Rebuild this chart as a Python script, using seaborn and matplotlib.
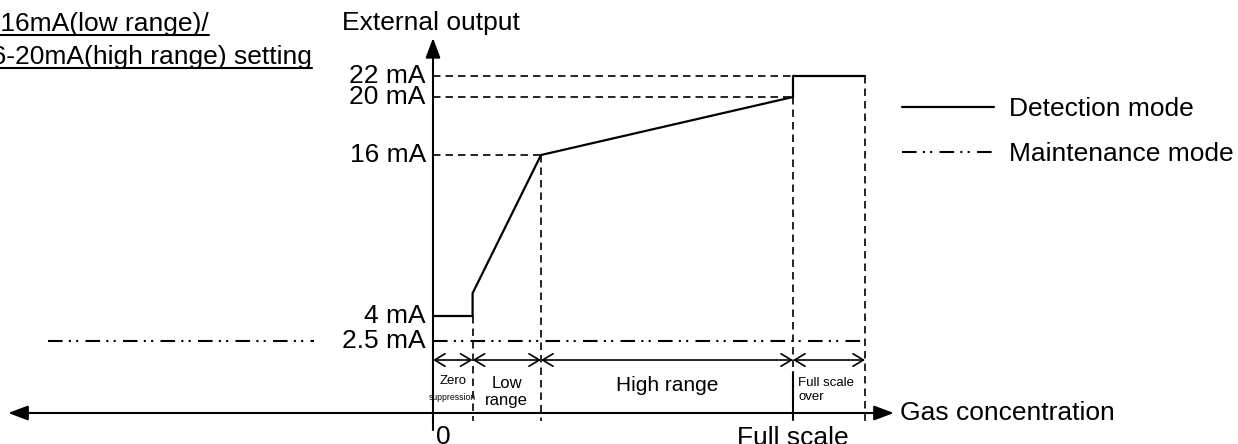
import matplotlib.pyplot as plt
import numpy as np
import seaborn as sns
from matplotlib.lines import Line2D

# gas concentration in % of full scale, external output in mA (schematic)
DET_CONC = [0, 11, 11, 30, 100, 100, 120]
DET_MA = [4, 4, 5.7, 16, 20, 22, 22]

MAINT_MA = 2.5
MAINT_CONC = [0, 120]
MAINT_LEFT_CONC = [-107, -33]

TICK_MA = [22, 20, 16, 4, 2.5]
GUIDE_MA = [22, 20, 16]

RANGE_EDGES = [0, 11, 30, 100, 120]
RANGE_NAMES = ['Zero\nsuppression', 'Low\nrange', 'High range', 'Full scale\nover']

TITLE_LINES = ['4-16mA(low range)/', '16-20mA(high range) setting']

# the drawing is schematic: mA levels are not evenly spaced on the axis
MA_KNOTS = [-3, 0, 2.5, 4, 16, 20, 22, 30]
POS_KNOTS = [-31, 0, 72, 97, 258, 316, 337, 413]

W, H = 1238, 444
FS = 19
DASH = (0, (4.5, 3))
MAINT_STYLE = (0, (7, 3, 1, 2.5, 1, 3.5))

sns.set_style('white')
plt.rcParams['font.family'] = ['Liberation Sans', 'DejaVu Sans']
plt.rcParams['text.color'] = 'black'

fig = plt.figure(figsize=(W / 100, H / 100), dpi=100)
ax = fig.add_axes([0, 0, 1, 1])
ax.set_yscale('function', functions=(lambda v: np.interp(v, MA_KNOTS, POS_KNOTS),
                                     lambda p: np.interp(p, POS_KNOTS, MA_KNOTS)))
ax.set_xlim(-433 / 3.6, (W - 433) / 3.6)
ax.set_ylim(-3, 30)
ax.set_axis_off()

# curves
sns.lineplot(x=DET_CONC, y=DET_MA, sort=False, estimator=None, color='black',
             lw=1.6, ax=ax, label='Detection mode')
sns.lineplot(x=MAINT_CONC, y=[MAINT_MA] * 2, color='black', lw=1.5,
             linestyle=MAINT_STYLE, ax=ax, label='Maintenance mode')
ax.plot(MAINT_LEFT_CONC, [MAINT_MA] * 2, color='black', lw=1.5, linestyle=MAINT_STYLE)

det_conc = np.array(DET_CONC)
det_ma = np.array(DET_MA)

# horizontal guides from the axis to where the curve reaches each level
for m in GUIDE_MA:
    end = det_conc[det_ma == m].min()
    ax.plot([0, end], [m, m], color='black', lw=1.2, linestyle=DASH)

# vertical guides at the range boundaries
for edge in RANGE_EDGES[1:]:
    top = det_ma[det_conc == edge].min()
    bottom = 1.42 if edge == 100 else -0.8
    ax.plot([edge, edge], [top, bottom], color='black', lw=1.2, linestyle=DASH)
ax.plot([100, 100], [1.42, -0.7], color='black', lw=1.5)

# axes with arrows
ax.annotate('', xy=(0, 26), xytext=(0, -1.65),
            arrowprops=dict(arrowstyle='-|>,head_length=0.8,head_width=0.3', color='black',
                            lw=1.5, mutation_scale=15, shrinkA=0, shrinkB=0))
ax.annotate('', xy=(128, 0), xytext=(-118, 0),
            arrowprops=dict(arrowstyle='<|-|>,head_length=0.8,head_width=0.3', color='black',
                            lw=1.5, mutation_scale=15, shrinkA=0, shrinkB=0))

for m in TICK_MA:
    ax.text(-2.0, m, f'{m:g} mA', ha='right', va='center', fontsize=FS)

ax.text(-0.5, 27.6, 'External output', ha='center', va='center', fontsize=FS)
ax.text(129.7, 0, 'Gas concentration', ha='left', va='center', fontsize=FS)
ax.text(0.7, -1.2, '0', ha='left', va='top', fontsize=FS)
ax.text(100, -1.3, 'Full scale', ha='center', va='top', fontsize=FS)

# range arrows and names
for a, b in zip(RANGE_EDGES[:-1], RANGE_EDGES[1:]):
    ax.annotate('', xy=(b, 1.84), xytext=(a, 1.84),
                arrowprops=dict(arrowstyle='<->,head_length=0.5,head_width=0.3', color='black',
                                lw=1.2, mutation_scale=15, shrinkA=0, shrinkB=0))

zero_top, zero_bottom = RANGE_NAMES[0].split('\n')
ax.text(5.5, 1.1, zero_top, ha='center', va='center', fontsize=9.5)
ax.text(5.5, 0.55, zero_bottom, ha='center', va='center', fontsize=6.2)
ax.text(20.5, 0.73, RANGE_NAMES[1], ha='center', va='center', fontsize=12, linespacing=1.1)
ax.text(65, 0.94, RANGE_NAMES[2], ha='center', va='center', fontsize=15)
ax.text(101.5, 0.8, RANGE_NAMES[3], ha='left', va='center', fontsize=9.5, linespacing=1.15)

ax.legend(loc='upper left', bbox_to_anchor=(902 / W, 1 - 97 / H), bbox_transform=fig.transFigure,
          frameon=False, fontsize=FS, handlelength=3.5, handletextpad=0.55,
          labelspacing=0.8, borderpad=0, borderaxespad=0, labelcolor='black')

# underlined title, partly outside the left edge
titles = []
for line, base in zip(TITLE_LINES, [31, 64]):
    titles.append((fig.text(-23 / W, 1 - base / H, line, ha='left', va='baseline', fontsize=FS), base))
fig.canvas.draw()
for t, base in titles:
    bb = t.get_window_extent()
    fig.add_artist(Line2D([bb.x0 / W, bb.x1 / W], [1 - (base + 4) / H] * 2,
                          transform=fig.transFigure, color='black', lw=1.5))

fig.savefig('out.png', dpi=100)
